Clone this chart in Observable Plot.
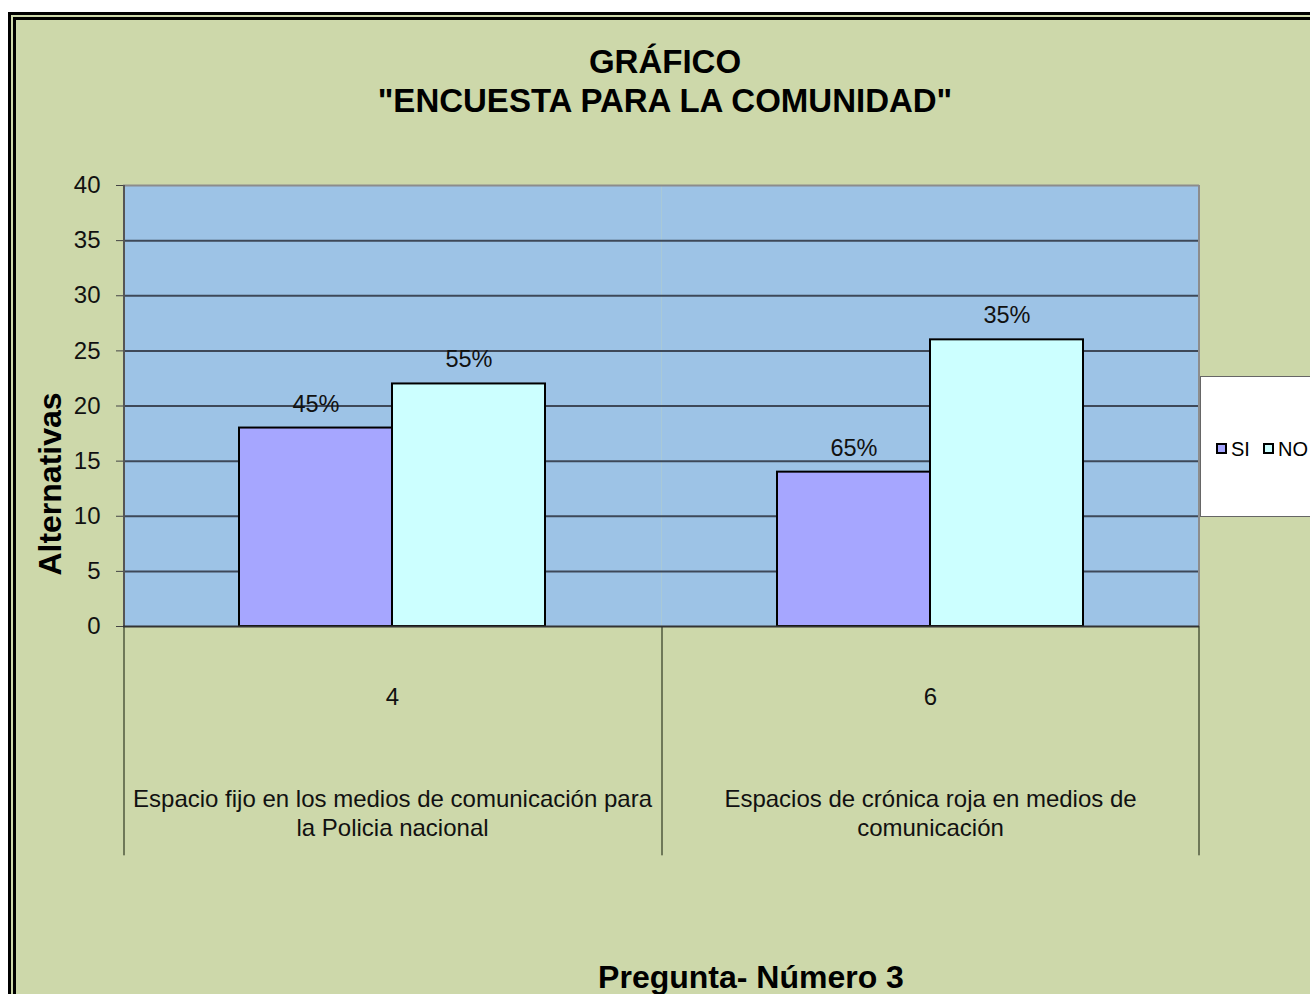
<!DOCTYPE html>
<html>
<head>
<meta charset="utf-8">
<script src="https://cdn.jsdelivr.net/npm/d3@7"></script>
<script src="https://cdn.jsdelivr.net/npm/@observablehq/plot@0.6"></script>
<style>
  html, body { margin: 0; padding: 0; background: #fff; overflow: hidden; }
  #page { position: relative; width: 1310px; height: 994px; overflow: hidden; font-family: "Liberation Sans", Arial, sans-serif; }
  #frame { position: absolute; left: 8px; top: 12px; width: 1400px; height: 1100px; border: 8px double #000; background: #CDD8AA; }
  #chart { position: absolute; left: 0; top: 0; }
  .title { position: absolute; left: 365px; width: 600px; text-align: center; font-weight: bold; font-size: 33px; color: #000; line-height: 39px; }
  #ytitle { position: absolute; left: 50px; top: 484px; transform: translate(-50%, -50%) rotate(-90deg); font-weight: bold; font-size: 32px; white-space: nowrap; color: #000; }
  #xtitle { position: absolute; left: 451px; width: 600px; top: 959px; text-align: center; font-weight: bold; font-size: 32px; color: #000; white-space: nowrap; }
  #legend { position: absolute; left: 1200px; top: 376px; width: 130px; height: 139px; background: #fff; border: 1px solid #666; }
  .item { position: absolute; top: 61px; font-size: 20px; line-height: 22px; color: #000; }
  .sw { display: inline-block; width: 7px; height: 7px; border: 2px solid #000; margin-right: 4px; vertical-align: 2px; }
</style>
</head>
<body>
<div id="page">
  <div id="frame"></div>
  <div id="chart"></div>
  <div class="title" style="top:42px">GRÁFICO<br>"ENCUESTA PARA LA COMUNIDAD"</div>
  <div id="ytitle">Alternativas</div>
  <div id="xtitle">Pregunta- Número 3</div>
  <div id="legend"></div>
</div>
<script>
// ---- data ----
const preguntas = ["4", "6"];
const etiquetas = [
  "Espacio fijo en los medios de comunicación para\nla Policia nacional",
  "Espacios de crónica roja en medios de\ncomunicación"
];
const series = ["SI", "NO"];
const valoresSI = [18, 14];
const valoresNO = [22, 26];
const porcentajesSI = ["45%", "65%"];
const porcentajesNO = ["55%", "35%"];
const yTicks = [0, 5, 10, 15, 20, 25, 30, 35, 40];
const colores = ["#A6A6FF", "#CCFFFF"];

const datos = preguntas.flatMap((p, i) => [
  {pregunta: p, serie: series[0], valor: valoresSI[i], pct: porcentajesSI[i]},
  {pregunta: p, serie: series[1], valor: valoresNO[i], pct: porcentajesNO[i]}
]);
const cats = preguntas.map((p, i) => ({pregunta: p, etiqueta: etiquetas[i]}));

// ---- layout ----
const W = 1310, H = 994;
const mL = 123, mR = 111, mT = 185, mB = 368;
const pad = 0.7468;
const facetW = (W - mL - mR) / preguntas.length;
const step = facetW / (series.length + 2 * pad);
const edge = pad * step + step / 2;   // from band centre to facet edge
const below = -0.52 * 40;            // divider lines extend below the axis

const grid = yTicks.filter(t => t > 0 && t < 40);

const chart = Plot.plot({
  width: W, height: H,
  marginTop: mT, marginLeft: mL, marginRight: mR, marginBottom: mB,
  style: {background: "transparent", fontFamily: "'Liberation Sans', Arial, sans-serif", color: "#111", overflow: "visible"},
  fx: {domain: preguntas, padding: 0, axis: null},
  x: {domain: series, paddingInner: 0, paddingOuter: pad, axis: null},
  y: {domain: [0, 40], axis: null},
  color: {domain: series, range: colores},
  marks: [
    Plot.frame({fill: "#9DC3E6", stroke: "none"}),
    Plot.ruleY(grid, {stroke: "#3E4858", strokeWidth: 2}),
    Plot.ruleY([40], {stroke: "#8C8C8C", strokeWidth: 2}),
    // plot-area left and right borders
    Plot.ruleX(preguntas.slice(0, 1), {fx: d => d, x: () => series[0], dx: -edge, y1: 0, y2: 40, stroke: "#555", strokeWidth: 2}),
    Plot.ruleX(preguntas.slice(-1), {fx: d => d, x: () => series[1], dx: edge, y1: 0, y2: 40, stroke: "#8C8C8C", strokeWidth: 2}),
    // category divider lines below the axis
    Plot.ruleX(preguntas, {fx: d => d, x: () => series[0], dx: -edge, y1: 0, y2: below, stroke: "#6E7858", strokeWidth: 2}),
    Plot.ruleX(preguntas.slice(-1), {fx: d => d, x: () => series[1], dx: edge, y1: 0, y2: below, stroke: "#6E7858", strokeWidth: 2}),
    Plot.barY(datos, {fx: "pregunta", x: "serie", y: "valor", fill: "serie", stroke: "#000", strokeWidth: 2}),
    Plot.ruleY([0], {stroke: "#333", strokeWidth: 2}),
    Plot.text(datos, {fx: "pregunta", x: "serie", y: "valor", text: "pct", dy: -24, fontSize: 23.5, fill: "#111"}),
    Plot.axisY({ticks: yTicks, tickSize: 7, tickPadding: 16, fontSize: 24, label: null, stroke: "#444", fill: "#111"}),
    Plot.text(cats, {fx: "pregunta", text: "pregunta", frameAnchor: "bottom", lineAnchor: "middle", dy: 71, fontSize: 24, fill: "#111"}),
    Plot.text(cats, {fx: "pregunta", text: "etiqueta", frameAnchor: "bottom", lineAnchor: "middle", dy: 185.5, fontSize: 24, lineHeight: 1.21, fill: "#111"})
  ]
});
document.getElementById("chart").appendChild(chart);

// legend
const legend = document.getElementById("legend");
const lefts = [15, 62];
series.forEach((s, i) => {
  const it = document.createElement("div");
  it.className = "item";
  it.style.left = lefts[i] + "px";
  it.innerHTML = `<span class="sw" style="background:${colores[i]}"></span>${s}`;
  legend.appendChild(it);
});
</script>
</body>
</html>
